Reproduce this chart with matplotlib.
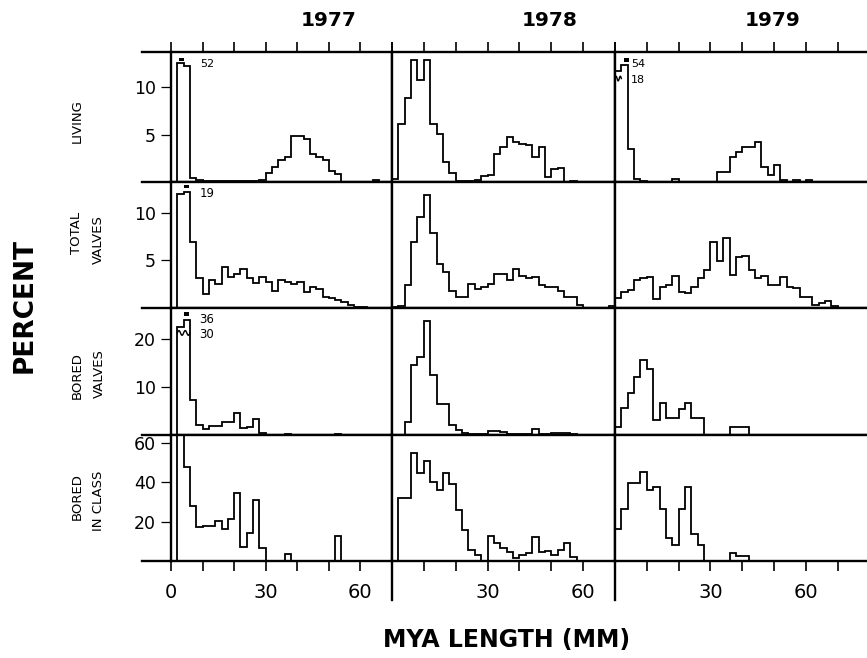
import numpy as np
import matplotlib.pyplot as plt
from matplotlib.lines import Line2D

# size classes, 2 mm wide, 0-70 mm
edges = np.arange(0, 72, 2)

# percent per size class (heights as drawn; broken bars are annotated)
living_1977 = [0, 12.5, 12.2, 0.4, 0.2, 0.1, 0.1, 0.1, 0.1, 0.1, 0.1, 0.1, 0.1, 0.1,
               0.2, 0.9, 1.6, 2.35, 2.6, 4.85, 4.85, 4.55, 2.9, 2.6, 2.3, 1.2, 0.8,
               0, 0, 0, 0, 0, 0.2, 0, 0]
living_1978 = [0.3, 6.1, 8.9, 12.9, 10.7, 12.9, 6.1, 5.1, 2.1, 0.9, 0.15, 0.15, 0.15,
               0.2, 0.6, 0.7, 2.9, 3.7, 4.7, 4.2, 4.0, 3.9, 2.6, 3.7, 0.5, 1.4, 1.5,
               0, 0.15, 0, 0, 0, 0, 0, 0]
living_1979 = [11.75, 12.3, 3.5, 0.35, 0.1, 0, 0, 0, 0, 0.3, 0, 0, 0, 0, 0, 0, 1.05,
               1.05, 2.6, 3.2, 3.7, 3.7, 4.2, 1.6, 0.7, 1.75, 0.2, 0.05, 0.2, 0.05,
               0.2, 0.05, 0, 0, 0]

total_1977 = [0, 11.9, 12.2, 6.9, 3.1, 1.5, 2.9, 2.5, 4.3, 3.2, 3.6, 4.1, 3.1, 2.6,
              3.3, 2.7, 1.8, 2.9, 2.7, 2.5, 2.7, 1.7, 2.2, 2.0, 1.2, 1.0, 0.8, 0.6,
              0.3, 0.15, 0.15, 0, 0, 0, 0]
total_1978 = [0.1, 0.2, 2.4, 6.9, 9.5, 11.8, 7.9, 4.6, 3.75, 1.8, 1.2, 1.2, 2.5, 2.0,
              2.2, 2.5, 3.6, 3.6, 2.9, 4.1, 3.4, 3.1, 3.3, 2.4, 2.2, 2.2, 1.8, 1.15,
              1.15, 0.3, 0.05, 0.05, 0.05, 0.05, 0.2]
total_1979 = [1.0, 1.7, 1.9, 2.95, 3.1, 3.3, 0.9, 2.25, 2.4, 3.4, 1.7, 1.55, 2.2, 3.1,
              4.0, 6.9, 4.9, 7.3, 3.5, 5.3, 5.45, 4.0, 3.1, 3.4, 2.4, 2.4, 3.2, 2.2,
              2.1, 1.2, 1.2, 0.35, 0.5, 0.75, 0.25]

bored_1977 = [0, 22.5, 24.0, 7.4, 2.1, 1.2, 1.9, 1.9, 2.8, 2.8, 4.65, 1.4, 1.7, 3.3,
              0.5, 0, 0, 0, 0.2, 0, 0, 0, 0, 0, 0, 0, 0.2, 0, 0, 0, 0, 0, 0, 0, 0]
bored_1978 = [0, 0, 2.8, 14.7, 16.2, 23.8, 12.5, 6.5, 6.5, 2.1, 1.0, 0.4, 0.3, 0.3,
              0.3, 0.8, 0.8, 0.7, 0.2, 0.2, 0.3, 0.2, 1.3, 0.15, 0.15, 0.4, 0.5, 0.5,
              0.3, 0.05, 0, 0, 0, 0, 0]
bored_1979 = [1.6, 5.6, 8.8, 12.1, 15.6, 13.8, 3.2, 6.7, 3.5, 3.5, 5.5, 6.7, 3.5, 3.5,
              0, 0, 0, 0, 1.7, 1.7, 1.7, 0, 0, 0, 0, 0, 0, 0, 0, 0, 0, 0, 0, 0, 0]

inclass_1977 = [0, 65, 48, 28, 17.1, 17.8, 17.8, 20.5, 16.1, 21.2, 34.7, 7.3, 14.1,
                31, 6.4, 0, 0, 0, 3.6, 0, 0, 0, 0, 0, 0, 0, 12.7, 0, 0, 0, 0, 0, 0,
                0, 0]
inclass_1978 = [0, 32.2, 32.2, 54.7, 44.9, 51, 40.3, 36.1, 44.6, 39, 25.9, 15.8, 5.6,
                3.05, 0, 12.7, 9, 6.8, 4.7, 1.4, 3.05, 3.9, 12.4, 4.7, 5.3, 3.05, 5.6,
                9.3, 2.2, 0, 0, 0, 0, 0, 0]
inclass_1979 = [16.1, 26.6, 39.8, 39.8, 45.3, 36.1, 37.8, 26.6, 11.9, 8.0, 26.3, 37.8,
                13.6, 8.0, 0, 0, 0, 0, 3.9, 2.5, 2.5, 0, 0, 0, 0, 0, 0, 0, 0, 0, 0,
                0, 0, 0, 0]

years = ['1977', '1978', '1979']
rows = [[living_1977, living_1978, living_1979],
        [total_1977, total_1978, total_1979],
        [bored_1977, bored_1978, bored_1979],
        [inclass_1977, inclass_1978, inclass_1979]]
row_ytop = [13.7, 13.2, 26.5, 64]
row_yticks = [[5, 10], [5, 10], [10, 20], [20, 40, 60]]

# layout in pixels of the 867x658 picture
W, H = 867, 658
col_px = [(171, 392), (392, 615), (615, 867)]
col_xmax = [70, 70, 79.2]
row_px = [(52, 182), (182, 308), (308, 435), (435, 561)]

fig = plt.figure(figsize=(W / 100, H / 100), dpi=100)

axes = {}
for r, (y0, y1) in enumerate(row_px):
    for c, (x0, x1) in enumerate(col_px):
        ax = fig.add_axes([x0 / W, 1 - y1 / H, (x1 - x0) / W, (y1 - y0) / H])
        axes[r, c] = ax
        ax.stairs(rows[r][c], edges, color='black', lw=1.3)
        ax.set_xlim(0, col_xmax[c])
        ax.set_ylim(0, row_ytop[r])
        for s in ax.spines.values():
            s.set_linewidth(1.7)
        if c == 2:
            ax.spines['right'].set_visible(False)
        ax.set_xticks(range(0, 71, 10))
        ax.tick_params(axis='x', direction='out', length=7.5, width=1.2,
                       top=(r == 0), bottom=(r == 3), labeltop=False,
                       labelbottom=(r == 3), labelsize=14, pad=8)
        if r == 3:
            lab = ['0' if c == 0 else '', '', '', '30', '', '', '60', '']
            ax.set_xticklabels(lab)
        if c == 0:
            ax.set_yticks(row_yticks[r])
            ax.tick_params(axis='y', direction='out', length=7, width=0.9,
                           labelsize=12.5, pad=4)
        else:
            ax.set_yticks([])

# broken bars: small caps, wavy cuts and true values
cap_w = 1.6
axes[0, 0].bar(3.3, 0.35, bottom=12.75, width=cap_w, color='black')
axes[0, 0].text(9.2, 12.4, '52', fontsize=8, va='center')
axes[1, 0].bar(5.0, 0.3, bottom=12.55, width=cap_w, color='black')
axes[1, 0].text(9.2, 12.0, '19', fontsize=8.5, va='center')
axes[2, 0].bar(5.0, 0.7, bottom=24.9, width=cap_w, color='black')
axes[2, 0].text(8.9, 24.0, '36', fontsize=8.5, va='center')
axes[2, 0].text(8.9, 21.0, '30', fontsize=8.5, va='center')
axes[0, 2].bar(3.5, 0.45, bottom=12.65, width=cap_w, color='black')
axes[0, 2].text(5.0, 12.4, '54', fontsize=8, va='center')
axes[0, 2].text(5.0, 10.8, '18', fontsize=8, va='center')

wx = np.linspace(0, 1, 30)
axes[0, 2].plot(edges[0] + 2 * wx, 10.9 + 0.25 * np.sin(3 * np.pi * wx), color='black', lw=1)
axes[2, 0].plot(edges[1] + 4 * wx, 21.3 + 0.5 * np.sin(4 * np.pi * wx), color='black', lw=1)

# row separators reaching past the left axis, column dividers below
for y in [52, 182, 308, 435, 561]:
    fig.add_artist(Line2D([142 / W, 171 / W], [1 - y / H] * 2, color='black', lw=1.7))
for x in [392, 615]:
    fig.add_artist(Line2D([x / W] * 2, [1 - 561 / H, 1 - 600 / H], color='black', lw=1.7))

# titles and labels
for c, yr in enumerate(years):
    fig.text((col_px[c][0] + 50 * 3.16) / W, 1 - 21 / H, yr, ha='center', va='center',
             fontsize=14.5, fontweight='bold')

row_labels = [('LIVING', 77, 121), ('TOTAL', 77, 233), ('VALVES', 98, 240),
              ('BORED', 77, 376), ('VALVES', 99, 374), ('BORED', 77, 497),
              ('IN CLASS', 99, 501)]
for txt, x, y in row_labels:
    fig.text(x / W, 1 - y / H, txt, rotation=90, ha='center', va='center', fontsize=9.5)

fig.text(25 / W, 1 - 306 / H, 'PERCENT', rotation=90, ha='center', va='center',
         fontsize=19, fontweight='bold')
fig.text(507 / W, 1 - 640 / H, 'MYA LENGTH (MM)', ha='center', va='center',
         fontsize=17, fontweight='bold')

plt.savefig('out.png', dpi=100)
